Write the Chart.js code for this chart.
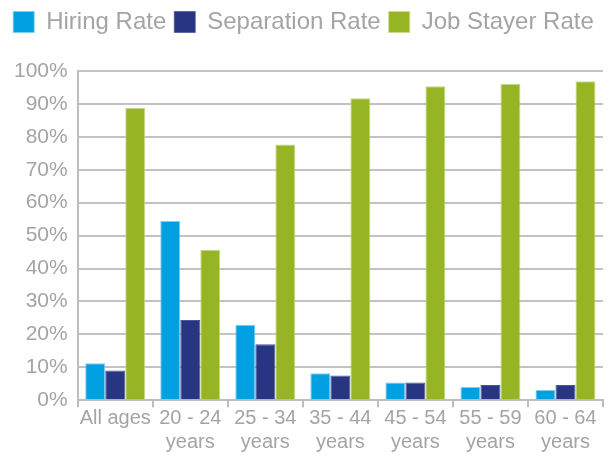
<!DOCTYPE html>
<html>
<head>
<meta charset="utf-8">
<script src="https://cdn.jsdelivr.net/npm/chart.js@4.4.1/dist/chart.umd.min.js"></script>
<style>
  html, body { margin: 0; padding: 0; background: #fff; }
  #wrap { width: 610px; height: 456px; }
</style>
</head>
<body>
<div id="wrap"><canvas id="myChart"></canvas></div>
<script>
// age groups and rates (%)
var ageGroups = ['All ages', ['20 - 24', 'years'], ['25 - 34', 'years'], ['35 - 44', 'years'],
                 ['45 - 54', 'years'], ['55 - 59', 'years'], ['60 - 64', 'years']];
var hiringRate = [11.2, 54.4, 22.9, 8.2, 5.4, 4.0, 3.1];
var separationRate = [9.0, 24.4, 17.0, 7.5, 5.4, 4.6, 4.6];
var jobStayerRate = [88.8, 45.7, 77.7, 91.7, 95.4, 96.1, 96.9];
var yTicks = [0, 10, 20, 30, 40, 50, 60, 70, 80, 90, 100];

var grey = '#a4a4a4';
var fontFamily = '"Liberation Sans", Arial, Helvetica, sans-serif';

// extra room between the legend and the plot
var legendGap = {
    id: 'legendGap',
    beforeInit: function (chart) {
        var fit = chart.legend.fit;
        chart.legend.fit = function () {
            fit.bind(chart.legend)();
            this.height += 27;
        };
    }
};

var ctx = document.getElementById('myChart').getContext('2d');
var myChart = new Chart(ctx, {
    type: 'bar',
    data: {
        labels: ageGroups,
        datasets: [{
            label: 'Hiring Rate',
            data: hiringRate,
            backgroundColor: '#00a0e2',
            borderColor: '#7fcdf0',
            borderWidth: { top: 1, left: 1, right: 1, bottom: 0 }
        }, {
            label: 'Separation Rate',
            data: separationRate,
            backgroundColor: '#283583',
            borderColor: '#4a5699',
            borderWidth: { top: 1, left: 1, right: 1, bottom: 0 }
        }, {
            label: 'Job Stayer Rate',
            data: jobStayerRate,
            backgroundColor: '#97b424',
            borderColor: '#c6dc88',
            borderWidth: { top: 1, left: 1, right: 1, bottom: 0 }
        }]
    },
    options: {
        responsive: true,
        maintainAspectRatio: false,
        animation: false,
        layout: { padding: { left: 4, right: 7, top: 2, bottom: 2 } },
        datasets: {
            bar: { categoryPercentage: 0.8, barPercentage: 1.0 }
        },
        plugins: {
            tooltip: { enabled: false },
            legend: {
                position: 'top',
                labels: {
                    boxWidth: 21,
                    boxHeight: 21,
                    padding: 8,
                    color: grey,
                    font: { family: fontFamily, size: 24 }
                }
            }
        },
        scales: {
            x: {
                offset: true,
                grid: {
                    display: true,
                    drawOnChartArea: false,
                    offset: true,
                    tickLength: 7,
                    color: '#bdbdbd',
                    lineWidth: 2
                },
                border: { color: '#bdbdbd', width: 2 },
                ticks: {
                    color: grey,
                    padding: 0,
                    maxRotation: 0,
                    autoSkip: false,
                    font: { family: fontFamily, size: 20, lineHeight: 1.17 }
                }
            },
            y: {
                min: 0,
                max: 100,
                afterBuildTicks: function (axis) {
                    axis.ticks = yTicks.map(function (v) { return { value: v }; });
                },
                grid: {
                    color: '#c2c2c2',
                    lineWidth: 2,
                    drawTicks: false
                },
                border: { display: true, color: '#bdbdbd', width: 2 },
                ticks: {
                    color: grey,
                    padding: 10,
                    font: { family: fontFamily, size: 21 },
                    callback: function (v) { return v + '%'; }
                }
            }
        }
    },
    plugins: [legendGap]
});
</script>
</body>
</html>
